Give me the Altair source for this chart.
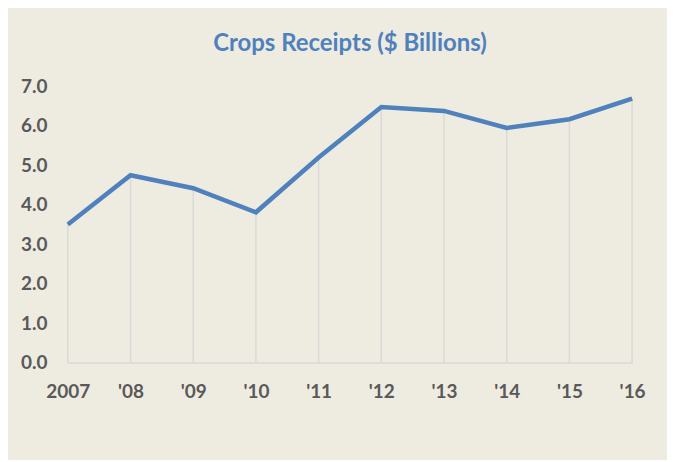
import altair as alt
import pandas as pd

years = ["2007", "'08", "'09", "'10", "'11", "'12", "'13", "'14", "'15", "'16"]
receipts = [3.5, 4.75, 4.42, 3.81, 5.2, 6.48, 6.38, 5.95, 6.17, 6.69]

df = pd.DataFrame({"year": years, "value": receipts})

BG = "#EEECE1"
BLUE = "#4F81BD"
LABEL = "#595959"
GRID = "#D9D9D9"

x = alt.X("year:N", sort=years,
          scale=alt.Scale(type="point", padding=0),
          axis=alt.Axis(title=None, labelAngle=0, domain=True, domainColor=GRID,
                        domainWidth=1.5, ticks=False, labelPadding=20,
                        labelOverlap=False,
                        labelFont="Lato", labelFontSize=19, labelFontWeight="bold",
                        labelColor=LABEL, grid=False))
y_axis = alt.Axis(title=None, values=[0, 1, 2, 3, 4, 5, 6, 7], format=".1f",
                  domain=False, ticks=False, grid=False, labelPadding=21,
                  labelOverlap=False, labelFlush=False,
                  labelFont="Lato", labelFontSize=19, labelFontWeight="bold",
                  labelColor=LABEL)
y_scale = alt.Scale(domain=[0, 7], nice=False, zero=True)

drops = alt.Chart(df).mark_rule(color=GRID, strokeWidth=1.5).encode(
    x=x, y=alt.Y("value:Q", scale=y_scale, axis=y_axis), y2=alt.datum(0)
)
line = alt.Chart(df).mark_line(color=BLUE, strokeWidth=4.5, strokeJoin="miter").encode(
    x=x, y=alt.Y("value:Q", scale=y_scale, axis=y_axis)
)

chart = alt.layer(drops, line).properties(
    width=566,
    height=277,
    autosize=alt.AutoSizeParams(type="none"),
    padding={"left": 60, "top": 78, "right": 35, "bottom": 97},
    background=BG,
    title=alt.TitleParams("Crops Receipts ($ Billions)", font="Lato", fontSize=24,
                          fontWeight="bold", color=BLUE, anchor="middle",
                          baseline="middle", offset=10),
).configure_view(stroke=None).configure_axis(labelOverlap=False)

chart.save("out.html", embed_options={"renderer": "svg", "actions": False})
